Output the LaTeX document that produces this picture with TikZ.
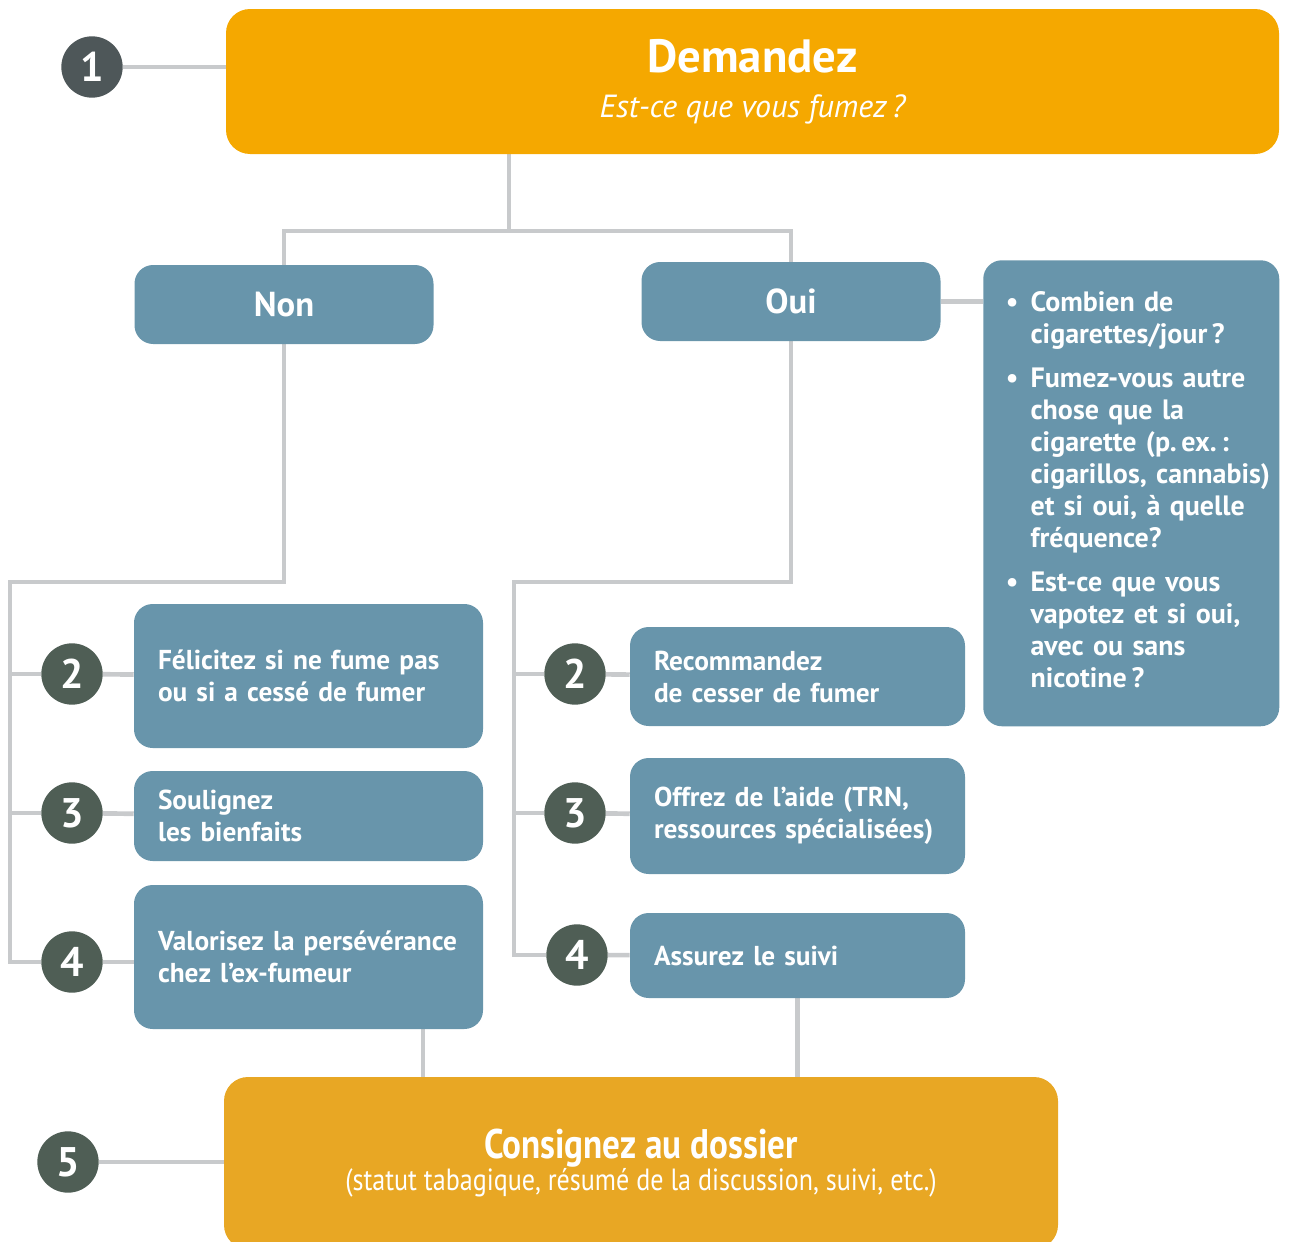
\documentclass[tikz,border=0pt]{standalone}
\usepackage{fontspec}
\setmainfont{PT Sans}
\newfontfamily\narrowfont[FakeStretch=0.85]{PT Sans}
\usepackage{tikz}
\usetikzlibrary{positioning,backgrounds,calc}
\definecolor{cask}{RGB}{245,168,0}
\definecolor{crec}{RGB}{232,167,36}
\definecolor{cbox}{RGB}{104,149,171}
\definecolor{cnum}{RGB}{79,94,85}
\definecolor{cnumone}{RGB}{78,87,89}
\definecolor{clink}{RGB}{200,202,204}

\begin{document}
\begin{tikzpicture}[x=0.75pt,y=-0.75pt,
  num/.style={circle,fill=cnum,text=white,minimum size=46pt,inner sep=0,
    font=\fontsize{31}{31}\selectfont\bfseries},
  stepbox/.style={rectangle,rounded corners=14pt,fill=cbox,text=white,align=left,
    inner xsep=18pt,inner ysep=0pt,font=\fontsize{20.5}{24}\selectfont\bfseries},
  answer/.style={stepbox,align=center,font=\fontsize{26}{28}\selectfont\bfseries},
  ask/.style={rectangle,rounded corners=18pt,fill=cask,text=white,align=center},
  link/.style={draw=clink,line width=3.5pt},
]
\useasboundingbox (0,0) rectangle (1289,1242);
\clip (0,0) rectangle (1289,1242);
% --- question ---
\node[ask,minimum width=789.75pt,minimum height=108.75pt] (top) at (752.5,81.5)
  {{\fontsize{35}{36}\selectfont\bfseries Demandez}\\[15pt]
   {\fontsize{24}{26}\selectfont\itshape Est-ce que vous fumez\,?}};
\node[num,fill=cnumone] (c1) at (92,67) {1};
\node[answer,minimum width=224.25pt,minimum height=59.25pt] (non) at (284,304.5) {Non};
\node[answer,minimum width=224.25pt,minimum height=59.25pt] (oui) at (791,301.5) {Oui};
\node[stepbox,font=\fontsize{21}{24}\selectfont\bfseries,text width=188pt,inner xsep=17pt,
      minimum height=349.5pt,anchor=north west] (info) at (983,260)
  {\begin{tabular}{@{}l@{\hspace{9pt}}l@{}}
   \textbullet & Combien de\\
               & cigarettes/jour\,?\\[9pt]
   \textbullet & Fumez-vous autre\\
               & chose que la\\
               & cigarette (p.\,ex.\,:\\
               & cigarillos, cannabis)\\
               & et si oui, à quelle\\
               & fréquence?\\[9pt]
   \textbullet & Est-ce que vous\\
               & vapotez et si oui,\\
               & avec ou sans\\
               & nicotine\,?
   \end{tabular}};
% --- Non branch ---
\node[stepbox,text width=225.75pt,minimum height=108pt] (fel) at (308.5,676)
  {Félicitez si ne fume pas\\ou si a cessé de fumer};
\node[stepbox,text width=225.75pt,minimum height=67.5pt] (soul) at (308.5,816)
  {Soulignez\\les bienfaits};
\node[stepbox,text width=225.75pt,minimum height=108pt] (val) at (308.5,957)
  {Valorisez la persévérance\\chez l’ex-fumeur};
\node[num] (c2n) at (72,674) {2};
\node[num] (c3n) at (72,813) {3};
\node[num] (c4n) at (72,962) {4};
% --- Oui branch ---
\node[stepbox,text width=215.25pt,minimum height=74.25pt] (rec) at (797.5,676.5)
  {Recommandez\\de cesser de fumer};
\node[stepbox,text width=215.25pt,minimum height=87pt] (off) at (797.5,816)
  {Offrez de l’aide (TRN,\\ressources spécialisées)};
\node[stepbox,text width=215.25pt,minimum height=63.75pt] (ass) at (797.5,955.5)
  {Assurez le suivi};
\node[num] (c2o) at (575,674) {2};
\node[num] (c3o) at (575,813) {3};
\node[num] (c4o) at (577,955) {4};
% --- record ---
\node[ask,fill=crec,minimum width=625.5pt,minimum height=129pt] (cons) at (641,1163)
  {{\narrowfont\fontsize{31}{32}\selectfont\bfseries Consignez au dossier}\\[0pt]
   {\narrowfont\fontsize{23}{26}\selectfont (statut tabagique, résumé de la discussion, suivi, etc.)}};
\node[num] (c5) at (68,1162) {5};
\coordinate (split) at (509,231);
\coordinate (nb) at (10,582);
\coordinate (ob) at (514,582);
\coordinate (vj) at ($(val.south)+(114.5,0)$);
\begin{scope}[on background layer]
  \draw[link] (c1) -- (top.west |- c1);
  \draw[link] (split |- top.south) -- (split) -| (non.north);
  \draw[link] (split) -| (oui.north);
  \draw[link] (oui.east) -- (info.west |- oui.east);
  \draw[link] (non.south) |- (nb) |- (c4n);
  \draw[link] (nb |- c2n) -- (c2n); \draw[link] (nb |- c3n) -- (c3n);
  \draw[link] (c2n) -- (fel); \draw[link] (c3n) -- (soul); \draw[link] (c4n) -- (val.west |- c4n);
  \draw[link] (oui.south) |- (ob) |- (c4o);
  \draw[link] (ob |- c2o) -- (c2o); \draw[link] (ob |- c3o) -- (c3o);
  \draw[link] (c2o) -- (rec); \draw[link] (c3o) -- (off); \draw[link] (c4o) -- (ass);
  \draw[link] (vj) -- (vj |- cons.north);
  \draw[link] (ass.south) -- (ass.south |- cons.north);
  \draw[link] (c5) -- (cons.west |- c5);
\end{scope}
\end{tikzpicture}
\end{document}
